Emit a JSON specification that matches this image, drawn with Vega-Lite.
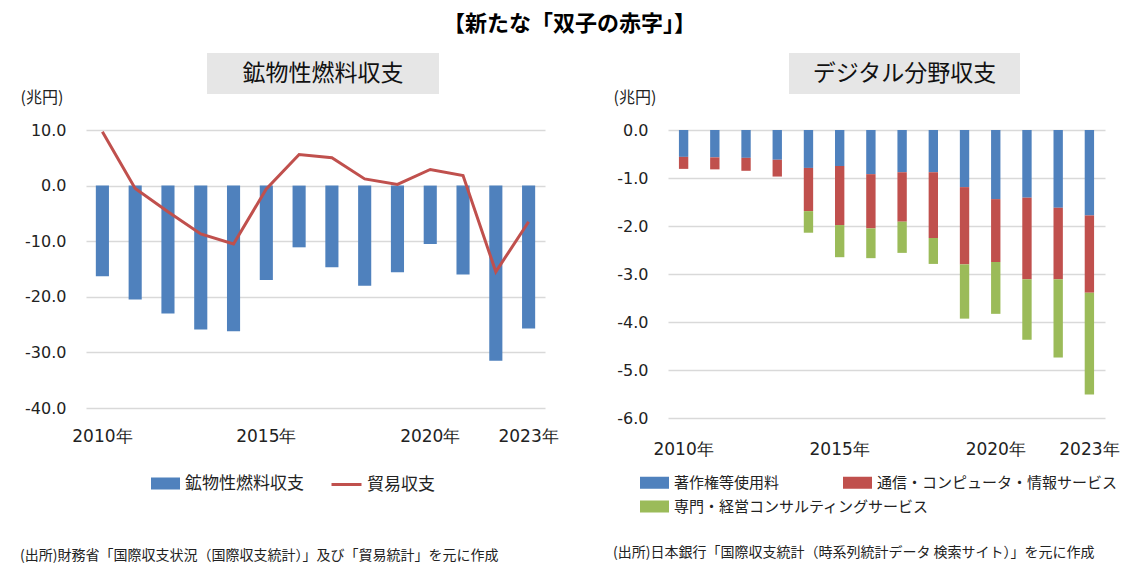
{
  "$schema": "https://vega.github.io/schema/vega-lite/v6.json",
  "background": "white",
  "padding": {"left": 20, "top": 13, "right": 0, "bottom": 0},
  "title": {
    "text": "【新たな「双子の赤字」】",
    "fontSize": 22,
    "fontWeight": "bold",
    "color": "#000",
    "anchor": "middle",
    "offset": 17
  },
  "datasets": {
    "mineral": [
      {"year": "2010", "mineral": -16.3, "trade": 9.7},
      {"year": "2011", "mineral": -20.5, "trade": -0.5},
      {"year": "2012", "mineral": -23.0, "trade": -4.7},
      {"year": "2013", "mineral": -25.9, "trade": -8.7},
      {"year": "2014", "mineral": -26.2, "trade": -10.5},
      {"year": "2015", "mineral": -17.0, "trade": -0.6},
      {"year": "2016", "mineral": -11.1, "trade": 5.6},
      {"year": "2017", "mineral": -14.7, "trade": 5.0},
      {"year": "2018", "mineral": -18.0, "trade": 1.2},
      {"year": "2019", "mineral": -15.6, "trade": 0.2},
      {"year": "2020", "mineral": -10.5, "trade": 2.9},
      {"year": "2021", "mineral": -16.0, "trade": 1.8},
      {"year": "2022", "mineral": -31.5, "trade": -15.5},
      {"year": "2023", "mineral": -25.7, "trade": -6.5}
    ],
    "digital": [
      {"year": "2010", "cat": "著作権等使用料", "value": -0.56},
      {"year": "2010", "cat": "通信・コンピュータ・情報サービス", "value": -0.25},
      {"year": "2011", "cat": "著作権等使用料", "value": -0.57},
      {"year": "2011", "cat": "通信・コンピュータ・情報サービス", "value": -0.25},
      {"year": "2012", "cat": "著作権等使用料", "value": -0.58},
      {"year": "2012", "cat": "通信・コンピュータ・情報サービス", "value": -0.27},
      {"year": "2013", "cat": "著作権等使用料", "value": -0.62},
      {"year": "2013", "cat": "通信・コンピュータ・情報サービス", "value": -0.35},
      {"year": "2014", "cat": "著作権等使用料", "value": -0.79},
      {"year": "2014", "cat": "通信・コンピュータ・情報サービス", "value": -0.90},
      {"year": "2014", "cat": "専門・経営コンサルティングサービス", "value": -0.45},
      {"year": "2015", "cat": "著作権等使用料", "value": -0.75},
      {"year": "2015", "cat": "通信・コンピュータ・情報サービス", "value": -1.23},
      {"year": "2015", "cat": "専門・経営コンサルティングサービス", "value": -0.67},
      {"year": "2016", "cat": "著作権等使用料", "value": -0.92},
      {"year": "2016", "cat": "通信・コンピュータ・情報サービス", "value": -1.13},
      {"year": "2016", "cat": "専門・経営コンサルティングサービス", "value": -0.62},
      {"year": "2017", "cat": "著作権等使用料", "value": -0.88},
      {"year": "2017", "cat": "通信・コンピュータ・情報サービス", "value": -1.03},
      {"year": "2017", "cat": "専門・経営コンサルティングサービス", "value": -0.65},
      {"year": "2018", "cat": "著作権等使用料", "value": -0.88},
      {"year": "2018", "cat": "通信・コンピュータ・情報サービス", "value": -1.37},
      {"year": "2018", "cat": "専門・経営コンサルティングサービス", "value": -0.54},
      {"year": "2019", "cat": "著作権等使用料", "value": -1.19},
      {"year": "2019", "cat": "通信・コンピュータ・情報サービス", "value": -1.61},
      {"year": "2019", "cat": "専門・経営コンサルティングサービス", "value": -1.13},
      {"year": "2020", "cat": "著作権等使用料", "value": -1.44},
      {"year": "2020", "cat": "通信・コンピュータ・情報サービス", "value": -1.31},
      {"year": "2020", "cat": "専門・経営コンサルティングサービス", "value": -1.08},
      {"year": "2021", "cat": "著作権等使用料", "value": -1.41},
      {"year": "2021", "cat": "通信・コンピュータ・情報サービス", "value": -1.70},
      {"year": "2021", "cat": "専門・経営コンサルティングサービス", "value": -1.26},
      {"year": "2022", "cat": "著作権等使用料", "value": -1.62},
      {"year": "2022", "cat": "通信・コンピュータ・情報サービス", "value": -1.49},
      {"year": "2022", "cat": "専門・経営コンサルティングサービス", "value": -1.63},
      {"year": "2023", "cat": "著作権等使用料", "value": -1.78},
      {"year": "2023", "cat": "通信・コンピュータ・情報サービス", "value": -1.61},
      {"year": "2023", "cat": "専門・経営コンサルティングサービス", "value": -2.12}
    ]
  },
  "resolve": {
    "scale": {"fill": "independent", "stroke": "independent", "color": "independent"},
    "legend": {"fill": "independent", "stroke": "independent", "color": "independent"}
  },
  "hconcat": [
    {
      "bounds": "flush",
      "spacing": 77,
      "resolve": {"legend": {"fill": "independent", "stroke": "independent", "color": "independent"}},
      "title": {
        "text": "(出所)財務省「国際収支状況（国際収支統計）」及び「貿易統計」を元に作成",
        "orient": "bottom",
        "anchor": "start",
        "offset": 56,
        "fontSize": 14,
        "fontWeight": "normal",
        "color": "#222"
      },
      "vconcat": [
        {
          "bounds": "flush",
          "spacing": 120,
          "hconcat": [
            {
              "width": 1,
              "height": 41,
              "data": {"values": [{}]},
              "mark": {"type": "text"},
              "encoding": {"text": {"value": ""}}
            },
            {
              "width": 232,
              "height": 41,
              "view": {"fill": "#e6e6e6", "stroke": null},
              "data": {"values": [{"label": "鉱物性燃料収支"}]},
              "mark": {"type": "text", "fontSize": 23, "color": "#111", "baseline": "middle"},
              "encoding": {"text": {"field": "label"}}
            }
          ]
        },
        {
          "width": 459,
          "height": 278,
          "data": {"name": "mineral"},
          "encoding": {
            "x": {
              "field": "year",
              "type": "ordinal",
              "scale": {"paddingInner": 0.6, "paddingOuter": 0.3},
              "axis": {
                "title": null,
                "values": ["2010", "2015", "2020", "2023"],
                "labelExpr": "datum.label + '年'"
              }
            }
          },
          "layer": [
            {
              "mark": {"type": "bar"},
              "encoding": {
                "y": {
                  "field": "mineral",
                  "type": "quantitative",
                  "title": "(兆円)",
                  "scale": {"domain": [-40, 10], "nice": false},
                  "axis": {
                    "values": [-40, -30, -20, -10, 0, 10],
                    "labelExpr": "(datum.value < 0 ? '-' : '') + format(abs(datum.value), '.1f')",
                    "titleX": -66,
                    "titleY": -33
                  }
                },
                "fill": {
                  "datum": "鉱物性燃料収支",
                  "scale": {"range": ["#4f81bd"]},
                  "legend": {
                    "title": null,
                    "orient": "none",
                    "legendX": 64,
                    "legendY": 338,
                    "symbolType": "M-1,-0.414H1V0.414H-1Z",
                    "symbolSize": 841,
                    "labelOffset": 4
                  }
                }
              }
            },
            {
              "mark": {"type": "line", "strokeWidth": 3},
              "encoding": {
                "y": {"field": "trade", "type": "quantitative", "title": "(兆円)"},
                "stroke": {
                  "datum": "貿易収支",
                  "scale": {"range": ["#c0504d"]},
                  "legend": {
                    "title": null,
                    "orient": "none",
                    "legendX": 244,
                    "legendY": 338,
                    "symbolType": "stroke",
                    "symbolSize": 900,
                    "symbolStrokeWidth": 3,
                    "labelOffset": 4
                  }
                }
              }
            }
          ]
        }
      ]
    },
    {
      "bounds": "flush",
      "spacing": 77,
      "resolve": {"legend": {"fill": "independent", "stroke": "independent", "color": "independent"}},
      "title": {
        "text": "(出所)日本銀行「国際収支統計（時系列統計データ 検索サイト）」を元に作成",
        "orient": "bottom",
        "anchor": "start",
        "offset": 31,
        "fontSize": 14,
        "fontWeight": "normal",
        "color": "#222"
      },
      "vconcat": [
        {
          "bounds": "flush",
          "spacing": 120,
          "hconcat": [
            {
              "width": 1,
              "height": 41,
              "data": {"values": [{}]},
              "mark": {"type": "text"},
              "encoding": {"text": {"value": ""}}
            },
            {
              "width": 231,
              "height": 41,
              "view": {"fill": "#e6e6e6", "stroke": null},
              "data": {"values": [{"label": "デジタル分野収支"}]},
              "mark": {"type": "text", "fontSize": 23, "color": "#111", "baseline": "middle"},
              "encoding": {"text": {"field": "label"}}
            }
          ]
        },
        {
          "width": 437,
          "height": 288,
          "data": {"name": "digital"},
          "layer": [
            {
              "transform": [
                {"calculate": "indexof(['著作権等使用料', '通信・コンピュータ・情報サービス', '専門・経営コンサルティングサービス'], datum.cat)", "as": "k"}
              ],
              "mark": {"type": "bar"},
              "encoding": {
                "x": {
                  "field": "year",
                  "type": "ordinal",
                  "scale": {"paddingInner": 0.7, "paddingOuter": 0.35},
                  "axis": {
                    "title": null,
                    "values": ["2010", "2015", "2020", "2023"],
                    "labelExpr": "datum.label + '年'",
                    "labelPadding": 23
                  }
                },
                "y": {
                  "field": "value",
                  "type": "quantitative",
                  "stack": "zero",
                  "title": "(兆円)",
                  "scale": {"domain": [-6, 0], "nice": false},
                  "axis": {
                    "values": [-6, -5, -4, -3, -2, -1, 0],
                    "labelExpr": "(datum.value < 0 ? '-' : '') + format(abs(datum.value), '.1f')",
                    "titleX": -55,
                    "titleY": -33
                  }
                },
                "order": {"field": "k", "type": "quantitative", "sort": "ascending"},
                "color": {
                  "field": "cat",
                  "type": "nominal",
                  "scale": {
                    "domain": ["著作権等使用料", "通信・コンピュータ・情報サービス", "専門・経営コンサルティングサービス"],
                    "range": ["#4f81bd", "#c0504d", "#9bbb59"]
                  },
                  "legend": {
                    "title": null,
                    "orient": "none",
                    "legendX": -29,
                    "legendY": 337,
                    "direction": "horizontal",
                    "values": ["著作権等使用料", "通信・コンピュータ・情報サービス"],
                    "columnPadding": 62,
                    "symbolType": "M-1,-0.414H1V0.414H-1Z",
                    "symbolSize": 841,
                    "labelOffset": 4,
                    "labelFontSize": 15
                  }
                }
              }
            },
            {
              "transform": [{"filter": "false"}],
              "mark": {"type": "bar"},
              "encoding": {
                "fill": {
                  "datum": "専門・経営コンサルティングサービス",
                  "scale": {"range": ["#9bbb59"]},
                  "legend": {
                    "title": null,
                    "orient": "none",
                    "legendX": -29,
                    "legendY": 361,
                    "symbolType": "M-1,-0.414H1V0.414H-1Z",
                    "symbolSize": 841,
                    "labelOffset": 4,
                    "labelFontSize": 15
                  }
                }
              }
            }
          ]
        }
      ]
    }
  ],
  "spacing": 54,
  "config": {
    "font": "Noto Sans CJK JP",
    "view": {"stroke": null},
    "axis": {
      "labelFont": "DejaVu Sans",
      "labelFontSize": 16,
      "labelColor": "#222",
      "domain": false,
      "ticks": false,
      "gridColor": "#d9d9d9",
      "gridWidth": 1.5,
      "titleFont": "Noto Sans CJK JP",
      "titleFontSize": 16,
      "titleFontWeight": "normal",
      "titleColor": "#222"
    },
    "axisX": {"grid": false, "labelPadding": 20, "labelAngle": 0, "labelFontSize": 17},
    "axisY": {"grid": true, "labelPadding": 20, "titleAngle": 0, "titleAlign": "left", "titleBaseline": "middle"},
    "legend": {
      "labelFont": "Noto Sans CJK JP",
      "labelFontSize": 17,
      "labelColor": "#222",
      "padding": 0,
      "labelLimit": 400
    }
  }
}
